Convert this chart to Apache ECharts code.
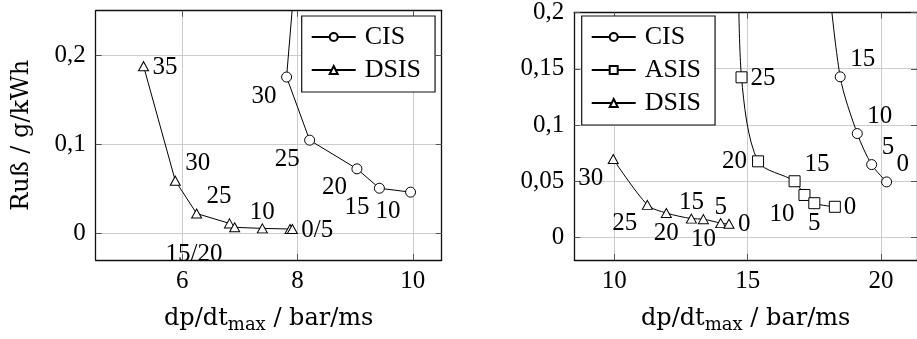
<!DOCTYPE html>
<html>
<head>
<meta charset="utf-8">
<script src="https://cdn.jsdelivr.net/npm/echarts@6/dist/echarts.min.js"></script>
<style>
  html, body { margin: 0; padding: 0; background: #fff; }
  #chart { width: 917px; height: 339px; }
</style>
</head>
<body>
<div id="chart"></div>
<script>
// ---- Left panel: soot vs. peak pressure rise rate (CIS / DSIS) ----
const leftCisX = [7.97, 7.81, 8.21, 9.03, 9.42, 9.96];
const leftCisY = [0.30, 0.1755, 0.1046, 0.0724, 0.0506, 0.0462];
const leftCisLabels = ['35', '30', '25', '20', '15', '10'];

const leftDsisX = [5.33, 5.88, 6.25, 6.82, 6.91, 7.39, 7.87, 7.91];
const leftDsisY = [0.1877, 0.0591, 0.0222, 0.0111, 0.0067, 0.0055, 0.0048, 0.0048];
const leftDsisLabels = ['35', '30', '25', '15/20', '', '10', '', '0/5'];

// ---- Right panel: CIS / ASIS / DSIS ----
const rightCisX = [17.95, 18.47, 19.11, 19.65, 20.21];
const rightCisY = [0.25, 0.1428, 0.0924, 0.0648, 0.0494];
const rightCisLabels = ['20', '15', '10', '5', '0'];

const rightAsisX = [14.65, 14.77, 15.39, 16.76, 17.13, 17.50, 18.27];
const rightAsisY = [0.25, 0.1424, 0.0677, 0.0500, 0.0378, 0.0305, 0.0273];
const rightAsisLabels = ['30', '25', '20', '15', '10', '5', '0'];

const rightDsisX = [9.96, 11.24, 11.95, 12.89, 13.34, 13.99, 14.30];
const rightDsisY = [0.0698, 0.0290, 0.0218, 0.0168, 0.0163, 0.0128, 0.0122];
const rightDsisLabels = ['30', '25', '20', '15', '10', '5', '0'];

// Tick values
const leftXTicks = [6, 8, 10];
const leftYTicks = [0, 0.1, 0.2];
const rightXTicks = [10, 15, 20];
const rightYTicks = [0, 0.05, 0.1, 0.15, 0.2];

// Label placement per point (layout only)
const leftCisPlaces = ['sw', 'sw', 'sw', 'sw', 'sw', 'sw'];
const leftDsisPlaces = ['e', 'ne', 'ne', 'sww', 'ne', 'n', 'ne', 'e'];
const rightCisPlaces = ['ne', 'ne', 'ne', 'ne', 'ne'];
const rightAsisPlaces = ['e', 'e', 'w', 'ne', 'sw', 's', 'e'];
const rightDsisPlaces = ['sw', 'sw', 's', 'n', 's', 'n', 'e'];

const SERIF = 'Liberation Serif';
const NAME_FONT = 'DejaVu Serif';

const placeStyle = {
  ne:  { align: 'left',   offset: [10, -17] },
  e:   { align: 'left',   offset: [9, 1] },
  sw:  { align: 'right',  offset: [-10, 19] },
  sww: { align: 'right',  offset: [-7, 31] },
  w:   { align: 'right',  offset: [-11, 0] },
  n:   { align: 'center', offset: [0, -16] },
  s:   { align: 'center', offset: [0, 20] }
};

function buildData(xs, ys, labels, places) {
  return xs.map((x, i) => {
    const p = placeStyle[places[i]];
    return {
      value: [x, ys[i]],
      label: {
        show: labels[i] !== '',
        formatter: labels[i],
        position: 'inside',
        align: p.align,
        verticalAlign: 'middle',
        offset: p.offset
      }
    };
  });
}

const fmtComma = v => String(+v.toFixed(3)).replace('.', ',');

function xAxisPair(gridIndex, min, max, ticks, withName) {
  const common = {
    type: 'value', gridIndex, min, max,
    axisLine: { show: true, onZero: false, lineStyle: { color: '#111', width: 1.3 } },
    axisTick: { show: true, inside: true, length: 6, customValues: ticks, lineStyle: { color: '#555', width: 1 } },
    splitLine: { show: false }
  };
  return [
    Object.assign({}, common, {
      position: 'bottom',
      axisLabel: { show: true, customValues: ticks, margin: 9, color: '#000', fontFamily: SERIF, fontSize: 25 },
      splitLine: { show: true, lineStyle: { color: '#cccccc', width: 1 } },
      name: withName ? '{a|dp/dt}{s|max}{a| / bar/ms}' : '',
      nameLocation: 'middle',
      nameGap: 44,
      nameTextStyle: {
        color: '#000',
        rich: {
          a: { fontFamily: NAME_FONT, fontSize: 24, lineHeight: 30, verticalAlign: 'middle', color: '#000' },
          s: { fontFamily: NAME_FONT, fontSize: 18, lineHeight: 18, verticalAlign: 'bottom', color: '#000' }
        }
      }
    }),
    Object.assign({}, common, { position: 'top', axisLabel: { show: false } })
  ];
}

function yAxisPair(gridIndex, min, max, ticks, name) {
  const common = {
    type: 'value', gridIndex, min, max,
    axisLine: { show: true, onZero: false, lineStyle: { color: '#111', width: 1.3 } },
    axisTick: { show: true, inside: true, length: 6, customValues: ticks, lineStyle: { color: '#555', width: 1 } },
    splitLine: { show: false }
  };
  return [
    Object.assign({}, common, {
      position: 'left',
      axisLabel: { show: true, customValues: ticks, margin: 10, color: '#000', fontFamily: SERIF, fontSize: 25, formatter: fmtComma },
      splitLine: { show: true, lineStyle: { color: '#cccccc', width: 1 } },
      name: name,
      nameLocation: 'middle',
      nameGap: 62,
      nameTextStyle: { color: '#000', fontFamily: NAME_FONT, fontSize: 24 }
    }),
    Object.assign({}, common, { position: 'right', axisLabel: { show: false } })
  ];
}

const xl = xAxisPair(0, 4.5, 10.5, leftXTicks, true);
const xr = xAxisPair(1, 8.5, 21.35, rightXTicks, true);
const yl = yAxisPair(0, -0.03, 0.25, leftYTicks, 'Ruß / g/kWh');
const yr = yAxisPair(1, -0.02, 0.2, rightYTicks, '');

function lineSeries(name, xi, yi, symbol, size, data, smooth) {
  return {
    type: 'line', name, xAxisIndex: xi, yAxisIndex: yi,
    data, symbol, symbolSize: size, showAllSymbol: true, smooth,
    clip: true,
    lineStyle: { color: '#000', width: 1 },
    itemStyle: { color: '#fff', borderColor: '#000', borderWidth: 1 },
    label: { color: '#000', fontFamily: SERIF, fontSize: 25 },
    emphasis: { disabled: true },
    z: 3
  };
}

const legendBase = {
  orient: 'vertical',
  itemWidth: 44, itemHeight: 10, itemGap: 7,
  backgroundColor: '#fff',
  borderColor: '#111', borderWidth: 1.2, borderRadius: 0,
  selectedMode: false,
  textStyle: { color: '#000', fontFamily: SERIF, fontSize: 26, lineHeight: 26, padding: [0, 0, 0, 4] },
  z: 10
};

const chart = echarts.init(document.getElementById('chart'), null, { renderer: 'canvas' });
chart.setOption({
  animation: false,
  backgroundColor: '#fff',
  grid: [
    { left: 95.7, top: 10.7, width: 346, height: 252.6 },
    { left: 574.3, top: 10.7, width: 346, height: 252.6 }
  ],
  xAxis: [xl[0], xr[0], xl[1], xr[1]],
  yAxis: [yl[0], yr[0], yl[1], yr[1]],
  legend: [
    Object.assign({}, legendBase, {
      left: 301.7, top: 16, padding: [8, 14, 9, 9],
      data: ['CIS', 'DSIS']
    }),
    Object.assign({}, legendBase, {
      left: 581.7, top: 16, padding: [8, 14, 9, 9],
      data: ['CIS', 'ASIS', 'DSIS']
    })
  ],
  series: [
    lineSeries('CIS', 0, 0, 'circle', 10, buildData(leftCisX, leftCisY, leftCisLabels, leftCisPlaces), false),
    lineSeries('DSIS', 0, 0, 'triangle', [10, 9], buildData(leftDsisX, leftDsisY, leftDsisLabels, leftDsisPlaces), false),
    lineSeries('CIS', 1, 1, 'circle', 10, buildData(rightCisX, rightCisY, rightCisLabels, rightCisPlaces), 0.3),
    lineSeries('ASIS', 1, 1, 'rect', 11, buildData(rightAsisX, rightAsisY, rightAsisLabels, rightAsisPlaces), 0.3),
    lineSeries('DSIS', 1, 1, 'triangle', [10, 9], buildData(rightDsisX, rightDsisY, rightDsisLabels, rightDsisPlaces), 0.3)
  ]
});
</script>
</body>
</html>
